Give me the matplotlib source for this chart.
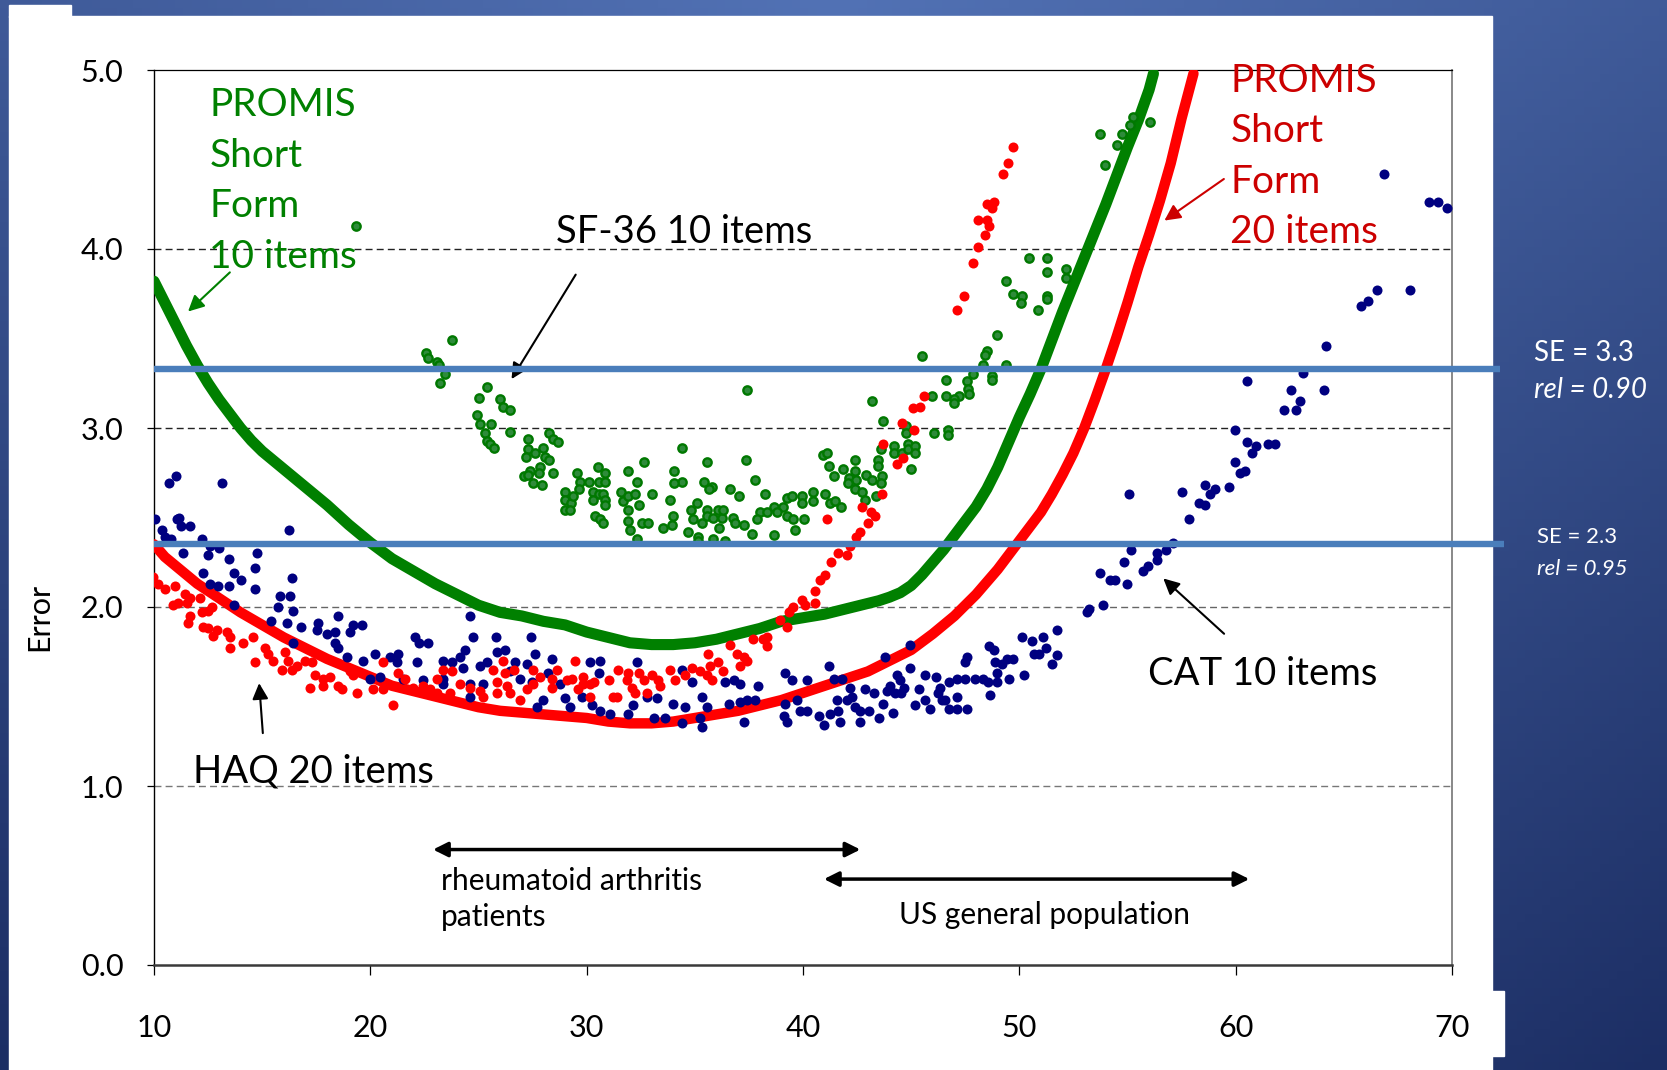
import numpy as np
import matplotlib
matplotlib.use("Agg")
import matplotlib.pyplot as plt
from matplotlib.patches import Rectangle

plt.rcParams['font.family'] = ['Lato', 'DejaVu Sans']

# ---------------- data ----------------
# PROMIS Short Form 10 items (green curve)
promis10_x = [10, 10.5, 11, 11.5, 12, 12.5, 13, 13.5, 14, 14.5, 15, 16, 17, 18, 19, 20, 21, 22, 23, 24,
              25, 26, 27, 28, 29, 30, 31, 32, 33, 34, 35, 36, 37, 38, 39, 40, 41, 42, 43, 43.5, 44,
              44.5, 45, 45.5, 46, 46.5, 47, 47.5, 48, 48.5, 49, 49.5, 50, 50.5, 51, 51.5, 52, 52.5,
              53, 53.5, 54, 54.5, 55, 55.5, 56, 56.2]
promis10_y = [3.82, 3.70, 3.58, 3.46, 3.35, 3.25, 3.16, 3.08, 3.00, 2.93, 2.87, 2.77, 2.67, 2.57, 2.46,
              2.36, 2.27, 2.20, 2.13, 2.07, 2.01, 1.97, 1.95, 1.92, 1.90, 1.86, 1.83, 1.80, 1.79, 1.79,
              1.80, 1.82, 1.85, 1.88, 1.92, 1.94, 1.96, 1.99, 2.02, 2.035, 2.055, 2.08, 2.12, 2.18, 2.25,
              2.32, 2.40, 2.48, 2.56, 2.66, 2.78, 2.92, 3.06, 3.19, 3.33, 3.49, 3.65, 3.80, 3.95, 4.10,
              4.25, 4.41, 4.57, 4.72, 4.89, 4.98]

# PROMIS Short Form 20 items (red curve)
promis20_x = [10, 10.5, 11, 11.5, 12, 13, 14, 15, 16, 17, 18, 19, 20, 21, 22, 23, 24, 25, 26, 27, 28,
              29, 30, 31, 32, 33, 34, 35, 36, 37, 38, 39, 40, 41, 42, 43, 44, 45, 46, 47, 48, 49,
              49.5, 50, 50.5, 51, 51.5, 52, 52.5, 53, 53.5, 54, 54.5, 55, 55.5, 56, 56.5, 57, 57.5,
              58.05]
promis20_y = [2.35, 2.28, 2.23, 2.18, 2.13, 2.05, 1.97, 1.90, 1.83, 1.77, 1.71, 1.66, 1.61, 1.56, 1.53,
              1.50, 1.47, 1.44, 1.42, 1.41, 1.40, 1.39, 1.38, 1.36, 1.35, 1.35, 1.36, 1.38, 1.40, 1.42,
              1.45, 1.48, 1.52, 1.56, 1.60, 1.64, 1.70, 1.76, 1.85, 1.95, 2.07, 2.21, 2.29, 2.37, 2.45,
              2.53, 2.63, 2.74, 2.86, 3.00, 3.16, 3.33, 3.51, 3.70, 3.90, 4.08, 4.27, 4.48, 4.73, 4.98]

# CAT 10 items (navy dots)
cat_points = [
    (10.71, 2.69), (11.02, 2.73), (13.14, 2.69), (10.05, 2.49), (10.35, 2.43), (11.05, 2.49), (11.17, 2.50),
    (11.23, 2.45), (11.66, 2.45), (10.51, 2.39), (10.77, 2.38), (12.20, 2.38), (12.59, 2.34), (11.36, 2.30),
    (12.51, 2.29), (13.02, 2.33), (13.48, 2.27), (14.75, 2.30), (16.26, 2.43), (12.28, 2.19), (12.59, 2.13),
    (12.97, 2.12), (13.48, 2.12), (13.70, 2.19), (14.01, 2.15), (14.65, 2.22), (14.65, 2.10), (16.38, 2.16),
    (15.82, 2.06), (16.29, 2.06), (15.75, 2.00), (16.41, 1.98), (13.70, 2.01), (15.39, 1.92), (16.16, 1.91),
    (16.78, 1.89), (17.60, 1.91), (17.52, 1.87), (17.98, 1.85), (18.37, 1.86), (18.52, 1.95), (19.06, 1.86),
    (19.22, 1.90), (19.60, 1.90), (16.44, 1.80), (18.37, 1.80), (18.52, 1.77), (18.91, 1.72), (19.68, 1.70),
    (20.22, 1.74), (20.91, 1.72), (21.22, 1.69), (21.30, 1.74), (22.07, 1.83), (22.27, 1.80), (22.68, 1.80),
    (22.14, 1.69), (23.38, 1.70), (23.76, 1.69), (24.15, 1.72), (24.61, 1.95), (24.73, 1.83), (24.38, 1.76),
    (24.30, 1.66), (25.07, 1.67), (25.38, 1.69), (25.81, 1.83), (25.84, 1.75), (24.61, 1.57), (25.23, 1.57),
    (24.61, 1.50), (23.38, 1.57), (23.38, 1.60), (22.45, 1.59), (21.53, 1.60), (20.45, 1.61), (19.99, 1.60),
    (27.42, 1.83), (26.23, 1.76), (27.62, 1.74), (28.39, 1.71), (26.69, 1.69), (27.23, 1.68), (26.46, 1.64),
    (26.92, 1.60), (27.46, 1.58), (28.23, 1.63), (28.77, 1.57), (30.16, 1.69), (30.62, 1.70), (30.55, 1.63),
    (32.32, 1.69), (29.00, 1.49), (29.78, 1.50), (30.24, 1.45), (28.00, 1.48), (27.70, 1.44), (29.24, 1.44),
    (30.62, 1.42), (31.09, 1.40), (31.93, 1.40), (32.16, 1.45), (32.78, 1.50), (33.24, 1.49), (34.01, 1.46),
    (34.55, 1.44), (34.40, 1.65), (34.86, 1.58), (35.32, 1.50), (35.55, 1.44), (35.25, 1.38), (34.40, 1.35),
    (35.32, 1.33), (33.09, 1.38), (33.63, 1.38), (36.79, 1.59), (37.10, 1.57), (36.40, 1.58), (36.56, 1.46),
    (37.10, 1.47), (37.40, 1.48), (37.79, 1.48), (37.94, 1.56), (37.25, 1.36), (39.18, 1.63), (39.48, 1.59),
    (40.18, 1.59), (39.18, 1.46), (39.10, 1.39), (39.25, 1.36), (39.72, 1.48), (39.87, 1.42), (40.18, 1.42),
    (40.72, 1.39), (40.95, 1.34), (41.18, 1.67), (41.41, 1.60), (41.56, 1.48), (41.64, 1.42), (41.26, 1.40),
    (42.03, 1.48), (41.72, 1.36), (41.80, 1.60), (42.18, 1.55), (42.25, 1.50), (42.41, 1.44), (42.64, 1.42),
    (42.64, 1.36), (43.03, 1.42), (42.87, 1.54), (43.26, 1.52), (43.49, 1.38), (43.72, 1.46), (43.80, 1.72),
    (43.88, 1.53), (44.03, 1.56), (44.18, 1.41), (44.26, 1.52), (44.34, 1.62), (44.49, 1.59), (44.55, 1.52),
    (44.65, 1.55), (44.95, 1.79), (44.95, 1.66), (45.19, 1.45), (45.34, 1.54), (45.65, 1.62), (45.65, 1.48),
    (45.88, 1.43), (46.16, 1.61), (46.26, 1.52), (46.34, 1.55), (46.42, 1.48), (46.57, 1.48), (46.73, 1.58),
    (46.73, 1.43), (47.11, 1.60), (47.11, 1.50), (47.11, 1.43), (47.50, 1.60), (47.50, 1.69), (47.57, 1.72),
    (47.57, 1.43), (47.96, 1.60), (48.34, 1.60), (48.57, 1.58), (48.65, 1.51), (48.62, 1.78), (48.84, 1.76),
    (48.88, 1.69), (48.96, 1.63), (48.96, 1.58), (49.19, 1.68), (49.50, 1.60), (49.42, 1.71), (49.73, 1.71),
    (50.12, 1.83), (50.22, 1.62), (50.58, 1.81), (50.66, 1.74), (50.89, 1.74), (51.09, 1.83), (51.24, 1.77),
    (51.50, 1.68), (51.73, 1.73), (51.73, 1.87), (53.12, 1.97), (53.24, 1.99),
    (66.84, 4.42), (68.92, 4.26), (69.34, 4.26), (69.77, 4.23), (65.79, 3.68), (66.10, 3.71), (66.53, 3.77),
    (68.04, 3.77), (64.17, 3.46), (60.52, 3.26), (63.11, 3.31), (62.57, 3.21), (64.07, 3.21), (62.99, 3.15),
    (62.25, 3.10), (62.80, 3.10), (59.98, 2.99), (60.52, 2.92), (60.95, 2.90), (60.75, 2.86), (61.48, 2.91),
    (61.83, 2.91), (59.98, 2.81), (60.21, 2.75), (60.44, 2.76), (59.67, 2.67), (59.03, 2.66), (58.59, 2.68),
    (58.83, 2.63), (58.29, 2.58), (58.59, 2.57), (57.52, 2.64), (57.82, 2.49), (55.08, 2.63), (57.10, 2.36),
    (56.79, 2.32), (56.36, 2.30), (56.36, 2.26), (55.94, 2.23), (55.71, 2.20), (55.17, 2.32), (54.85, 2.25),
    (54.97, 2.13), (54.20, 2.15), (54.43, 2.15), (53.74, 2.19), (53.89, 2.01),
]

# HAQ 20 items (red dots)
haq_points = [
    (9.97, 2.17), (10.20, 2.13), (10.51, 2.10), (10.97, 2.12), (11.43, 2.07), (11.66, 2.05), (10.89, 2.01),
    (11.12, 2.02), (11.51, 2.02), (12.13, 2.05), (12.51, 1.98), (12.20, 1.97), (12.67, 2.00), (11.66, 1.95),
    (11.59, 1.91), (12.28, 1.89), (12.51, 1.88), (12.90, 1.87), (12.74, 1.84), (13.36, 1.86), (13.51, 1.83),
    (13.51, 1.77), (14.13, 1.80), (14.59, 1.83), (15.13, 1.77), (15.29, 1.74), (14.67, 1.69), (15.52, 1.70),
    (16.06, 1.75), (16.21, 1.70), (15.90, 1.65), (16.36, 1.65), (16.60, 1.67), (16.98, 1.70), (17.29, 1.69),
    (17.44, 1.62), (17.21, 1.55), (17.83, 1.60), (18.14, 1.61), (17.83, 1.56), (18.52, 1.56), (18.68, 1.54),
    (19.37, 1.52), (19.06, 1.64), (19.22, 1.62), (20.14, 1.54), (20.60, 1.69), (20.60, 1.54), (21.07, 1.45),
    (21.30, 1.63), (21.60, 1.60), (21.99, 1.55), (22.45, 1.56), (22.76, 1.54), (23.07, 1.60), (23.38, 1.65),
    (23.76, 1.64), (24.15, 1.57), (24.61, 1.55), (25.07, 1.53), (25.69, 1.65), (25.84, 1.58), (25.23, 1.50),
    (25.84, 1.52), (23.07, 1.52), (23.68, 1.52),
    (26.15, 1.70), (26.23, 1.63), (26.62, 1.65), (26.31, 1.56), (26.46, 1.52), (26.92, 1.48), (27.23, 1.54),
    (27.54, 1.57), (27.54, 1.65), (27.85, 1.61), (28.39, 1.60), (28.39, 1.55), (28.62, 1.65), (29.08, 1.59),
    (29.31, 1.60), (29.47, 1.70), (29.62, 1.54), (29.85, 1.61), (29.85, 1.57), (30.16, 1.57), (30.16, 1.50),
    (30.32, 1.58), (31.01, 1.59), (31.24, 1.50), (31.39, 1.50), (31.47, 1.65), (31.86, 1.59), (31.93, 1.63),
    (32.09, 1.55), (32.24, 1.52), (32.40, 1.63), (32.63, 1.59), (32.78, 1.52), (33.01, 1.62), (33.32, 1.59),
    (33.40, 1.56), (33.86, 1.65), (34.09, 1.59), (34.55, 1.62), (34.86, 1.66), (35.25, 1.64), (35.55, 1.62),
    (35.71, 1.67), (35.79, 1.59), (36.09, 1.69), (36.32, 1.64), (36.63, 1.79), (36.94, 1.74), (37.10, 1.67),
    (37.25, 1.72), (37.40, 1.70), (37.71, 1.82), (38.17, 1.82), (38.33, 1.78), (38.33, 1.83), (38.94, 1.93),
    (39.25, 1.89), (39.33, 1.97), (39.56, 2.00), (39.95, 2.04), (40.10, 2.01), (40.56, 2.02), (40.56, 2.09),
    (35.63, 1.74), (40.80, 2.15), (41.00, 2.18), (41.30, 2.25), (41.60, 2.30),
    (49.69, 4.57), (49.49, 4.48), (49.26, 4.42), (48.52, 4.25), (48.83, 4.26), (48.72, 4.23), (48.11, 4.16),
    (48.49, 4.16), (48.61, 4.13), (48.41, 4.08), (48.11, 4.01), (47.88, 3.92), (47.44, 3.74), (47.14, 3.66),
    (45.59, 3.18), (45.07, 3.11), (45.41, 3.12), (44.56, 3.03), (45.13, 2.99), (43.71, 2.91), (44.33, 2.80),
    (44.64, 2.83), (43.64, 2.63), (42.71, 2.56), (43.13, 2.53), (43.33, 2.51), (43.02, 2.47), (41.13, 2.49),
    (42.64, 2.42), (42.45, 2.39), (42.17, 2.34), (42.02, 2.29),
]

# SF-36 10 items (green dots)
sf36_points = [
    (19.34, 4.13),
    (23.76, 3.49), (22.57, 3.42), (22.68, 3.39), (23.07, 3.37), (23.19, 3.35), (23.45, 3.30), (23.22, 3.25),
    (25.38, 3.23), (25.04, 3.17), (25.99, 3.16), (26.15, 3.12), (26.46, 3.10), (24.95, 3.07), (25.07, 3.02),
    (25.56, 3.02), (25.30, 2.97), (25.41, 2.93), (25.53, 2.91), (25.72, 2.89), (26.46, 2.98), (27.30, 2.94),
    (28.27, 2.97), (28.46, 2.94), (28.69, 2.92), (27.30, 2.88), (27.61, 2.86), (27.97, 2.89), (28.07, 2.84),
    (28.27, 2.82), (27.19, 2.84), (27.84, 2.78), (27.38, 2.76), (27.81, 2.75), (27.10, 2.73), (27.30, 2.74),
    (27.53, 2.69), (27.92, 2.68), (28.46, 2.75), (29.57, 2.75), (29.69, 2.70), (29.66, 2.66), (30.09, 2.70),
    (29.00, 2.64), (29.00, 2.60), (29.26, 2.58), (29.00, 2.54), (29.23, 2.54), (29.38, 2.62), (30.54, 2.78),
    (30.85, 2.75), (30.59, 2.70), (30.85, 2.70), (30.31, 2.64), (30.59, 2.63), (30.77, 2.63), (30.31, 2.60),
    (30.85, 2.60), (30.85, 2.57), (30.39, 2.51), (30.62, 2.49), (30.74, 2.47), (31.93, 2.76), (32.34, 2.70),
    (32.67, 2.81), (31.57, 2.64), (31.66, 2.59), (31.93, 2.62), (32.23, 2.63), (32.43, 2.57), (31.93, 2.54),
    (31.93, 2.48), (32.00, 2.43), (32.34, 2.38), (32.54, 2.47), (32.85, 2.47), (33.00, 2.63), (33.51, 2.44),
    (33.85, 2.60), (33.98, 2.51), (33.93, 2.46), (34.04, 2.76), (34.39, 2.89), (34.39, 2.70), (34.04, 2.69),
    (34.70, 2.42), (34.81, 2.54), (34.93, 2.49), (35.09, 2.58), (35.16, 2.39), (35.16, 2.37), (35.32, 2.47),
    (35.42, 2.70), (35.55, 2.81), (35.78, 2.67), (35.67, 2.66), (35.55, 2.54), (35.55, 2.51), (35.83, 2.50),
    (35.86, 2.38), (36.09, 2.54), (36.13, 2.44), (36.24, 2.50), (36.32, 2.54), (36.39, 2.37), (36.63, 2.66),
    (36.75, 2.50), (36.86, 2.47), (37.06, 2.62), (37.27, 2.46), (37.37, 2.82), (37.40, 3.21),
    (50.46, 3.95), (51.30, 3.95), (51.30, 3.87), (52.16, 3.89), (52.16, 3.84), (49.39, 3.82), (49.72, 3.75),
    (50.11, 3.74), (50.06, 3.70), (50.88, 3.66), (51.30, 3.74), (51.30, 3.72), (48.95, 3.52), (48.52, 3.43),
    (48.41, 3.41), (45.52, 3.40), (48.31, 3.35), (49.39, 3.35), (47.88, 3.30), (48.72, 3.29), (48.72, 3.27),
    (46.60, 3.27), (47.57, 3.26), (47.64, 3.22), (47.69, 3.19), (45.95, 3.18), (46.60, 3.18), (47.23, 3.18),
    (46.98, 3.16), (46.98, 3.14), (43.17, 3.15), (43.68, 3.04), (44.76, 3.01), (44.76, 2.97), (46.06, 2.97),
    (46.69, 2.99), (46.69, 2.96), (43.59, 2.88), (44.21, 2.90), (44.21, 2.86), (44.56, 2.86), (44.87, 2.91),
    (44.87, 2.88), (45.18, 2.90), (45.18, 2.86), (43.48, 2.82), (43.48, 2.79), (44.98, 2.77), (40.91, 2.85),
    (41.13, 2.86), (41.22, 2.79), (42.40, 2.82), (41.86, 2.77), (42.40, 2.76), (41.43, 2.73), (42.14, 2.72),
    (42.91, 2.74), (42.45, 2.71), (43.64, 2.73), (43.17, 2.71), (43.59, 2.69), (42.10, 2.69), (42.40, 2.66),
    (42.71, 2.64), (42.87, 2.60), (43.38, 2.62), (37.78, 2.71), (38.24, 2.63), (39.28, 2.61), (39.48, 2.62),
    (39.94, 2.62), (39.94, 2.58), (40.48, 2.64), (40.48, 2.59), (41.02, 2.63), (41.25, 2.58), (41.48, 2.59),
    (41.74, 2.56), (38.66, 2.56), (39.09, 2.56), (38.01, 2.53), (38.32, 2.53), (38.78, 2.53), (39.25, 2.51),
    (37.86, 2.49), (39.55, 2.49), (40.05, 2.49), (37.63, 2.41), (38.66, 2.40), (39.63, 2.43),
    (53.74, 4.64), (55.27, 4.74), (54.74, 4.64), (54.51, 4.58), (53.97, 4.47), (56.02, 4.71), (55.10, 4.69),
]

# reliability reference lines
se_values = [3.33, 2.35]
se_line_end = [72.2, 72.4]
se_labels = [("SE = 3.3", "rel = 0.90"), ("SE = 2.3", "rel = 0.95")]

x_ticks = [10, 20, 30, 40, 50, 60, 70]
y_ticks = [0, 1, 2, 3, 4, 5]

# ---------------- figure ----------------
W, H = 1667, 1070
fig = plt.figure(figsize=(W / 100, H / 100), dpi=100)

# slide background (blue gradient + white panel)
bg = fig.add_axes([0, 0, 1, 1], zorder=0)
bg.set_xlim(0, W)
bg.set_ylim(H, 0)
bg.axis("off")
gx, gy = np.meshgrid(np.linspace(0, 1, 200), np.linspace(0, 1, 130))
t = np.clip(0.65 * (1 - gy) + 0.35 * (1 - np.abs(gx - 0.5) * 2), 0, 1)
light = np.array([82, 114, 181]) / 255
dark = np.array([28, 46, 100]) / 255
bg.imshow(dark + (light - dark) * t[..., None], extent=[0, W, H, 0], aspect="auto")
bg.add_patch(Rectangle((9, 16), 1483, 1054, color="white"))
bg.add_patch(Rectangle((9, 5), 62, 12, color="white"))
bg.add_patch(Rectangle((1490, 991), 14, 65, color="white"))

ax = fig.add_axes([154 / W, 1 - 965 / H, (1452 - 154) / W, (965 - 70) / H], zorder=1)
ax.patch.set_alpha(0)

# gridlines
for yv, gc in zip([1, 2, 3, 4], ["#777777", "#666666", "#222222", "#222222"]):
    ax.axhline(yv, color=gc, lw=1, ls=(0, (5, 3)), zorder=1)

ax.plot(promis10_x, promis10_y, color="#008000", lw=8, solid_capstyle="round",
        solid_joinstyle="round", zorder=3)
ax.plot(promis20_x, promis20_y, color="#ff0000", lw=7.5, solid_capstyle="round",
        solid_joinstyle="round", zorder=3)

cx, cy = zip(*cat_points)
ax.scatter(cx, cy, s=52, color="#000080", linewidths=0, zorder=4)
gx_, gy_ = zip(*sf36_points)
ax.scatter(gx_, gy_, s=36, facecolor="#2e8b3a", edgecolor="#007800", linewidths=1.7, zorder=4)
hx, hy = zip(*haq_points)
ax.scatter(hx, hy, s=52, color="#ff0000", linewidths=0, zorder=5)

# SE lines extending out of the plot
for yv, xe in zip(se_values, se_line_end):
    ax.plot([10, xe], [yv, yv], color="#4a7ebb", lw=4.6, clip_on=False, zorder=6,
            solid_capstyle="butt")

ax.set_xlim(10, 70)
ax.set_ylim(0, 5)
ax.set_xticks(x_ticks)
ax.set_xticklabels([str(v) for v in x_ticks])
ax.set_yticks(y_ticks)
ax.set_yticklabels([f"{v:.1f}" for v in y_ticks])
ax.tick_params(axis="x", direction="out", length=7, width=0.9, pad=28, labelsize=22)
ax.tick_params(axis="y", direction="out", length=5, width=0.9, pad=17, labelsize=22)
ax.spines["top"].set_linewidth(0.9)
ax.spines["left"].set_linewidth(1.0)
ax.spines["right"].set_color("#7f7f7f")
ax.spines["right"].set_linewidth(1.3)
ax.spines["bottom"].set_color("#3a3a3a")
ax.spines["bottom"].set_linewidth(1.8)

fig.text(39 / W, 1 - 617 / H, "Error", rotation=90, ha="center", va="center", fontsize=22)

# series labels and arrows
ax.text(12.56, 4.905, "PROMIS\nShort\nForm\n10 items", color="#008000", fontsize=28,
        va="top", ha="left", linespacing=1.5, zorder=7)
ax.annotate("", xy=(11.48, 3.64), xytext=(13.6, 3.88),
            arrowprops=dict(arrowstyle="-|>", color="#008000", lw=1.5, mutation_scale=24))

ax.text(59.75, 5.04, "PROMIS\nShort\nForm\n20 items", color="#cc0000", fontsize=28,
        va="top", ha="left", linespacing=1.5, clip_on=False, zorder=7)
ax.annotate("", xy=(56.6, 4.15), xytext=(59.56, 4.40),
            arrowprops=dict(arrowstyle="-|>", color="#cc0000", lw=1.5, mutation_scale=24))

ax.text(28.59, 4.095, "SF-36 10 items", fontsize=27.5, va="center", ha="left", zorder=7)
ax.annotate("", xy=(26.46, 3.26), xytext=(29.56, 3.87),
            arrowprops=dict(arrowstyle="-|>", color="black", lw=1.5, mutation_scale=24))

ax.text(55.95, 1.626, "CAT 10 items", fontsize=27.5, va="center", ha="left", zorder=7)
ax.annotate("", xy=(56.56, 2.17), xytext=(59.56, 1.84),
            arrowprops=dict(arrowstyle="-|>", color="black", lw=1.5, mutation_scale=24))

ax.text(11.8, 1.08, "HAQ 20 items", fontsize=27.5, va="center", ha="left", zorder=7)
ax.annotate("", xy=(14.85, 1.59), xytext=(15.04, 1.28),
            arrowprops=dict(arrowstyle="-|>", color="black", lw=1.5, mutation_scale=24))

# population ranges
ax.annotate("", xy=(22.77, 0.645), xytext=(42.78, 0.645),
            arrowprops=dict(arrowstyle="<|-|>", color="black", lw=2.5, mutation_scale=22))
ax.text(23.27, 0.37, "rheumatoid arthritis\npatients", fontsize=21.5, va="center", ha="left",
        linespacing=1.35)
ax.annotate("", xy=(40.84, 0.48), xytext=(60.76, 0.48),
            arrowprops=dict(arrowstyle="<|-|>", color="black", lw=2.5, mutation_scale=22))
ax.text(44.44, 0.279, "US general population", fontsize=21.5, va="center", ha="left")

# SE labels on the blue margin
for (l1, l2), y1, y2, fs, xl in zip(se_labels, [353, 537], [390, 569], [20, 16], [1534, 1537]):
    fig.text(xl / W, 1 - y1 / H, l1, color="white", fontsize=fs, va="center", ha="left")
    fig.text(xl / W, 1 - y2 / H, l2, color="white", fontsize=fs, va="center", ha="left",
             style="italic")

fig.savefig("out.png", dpi=100)
